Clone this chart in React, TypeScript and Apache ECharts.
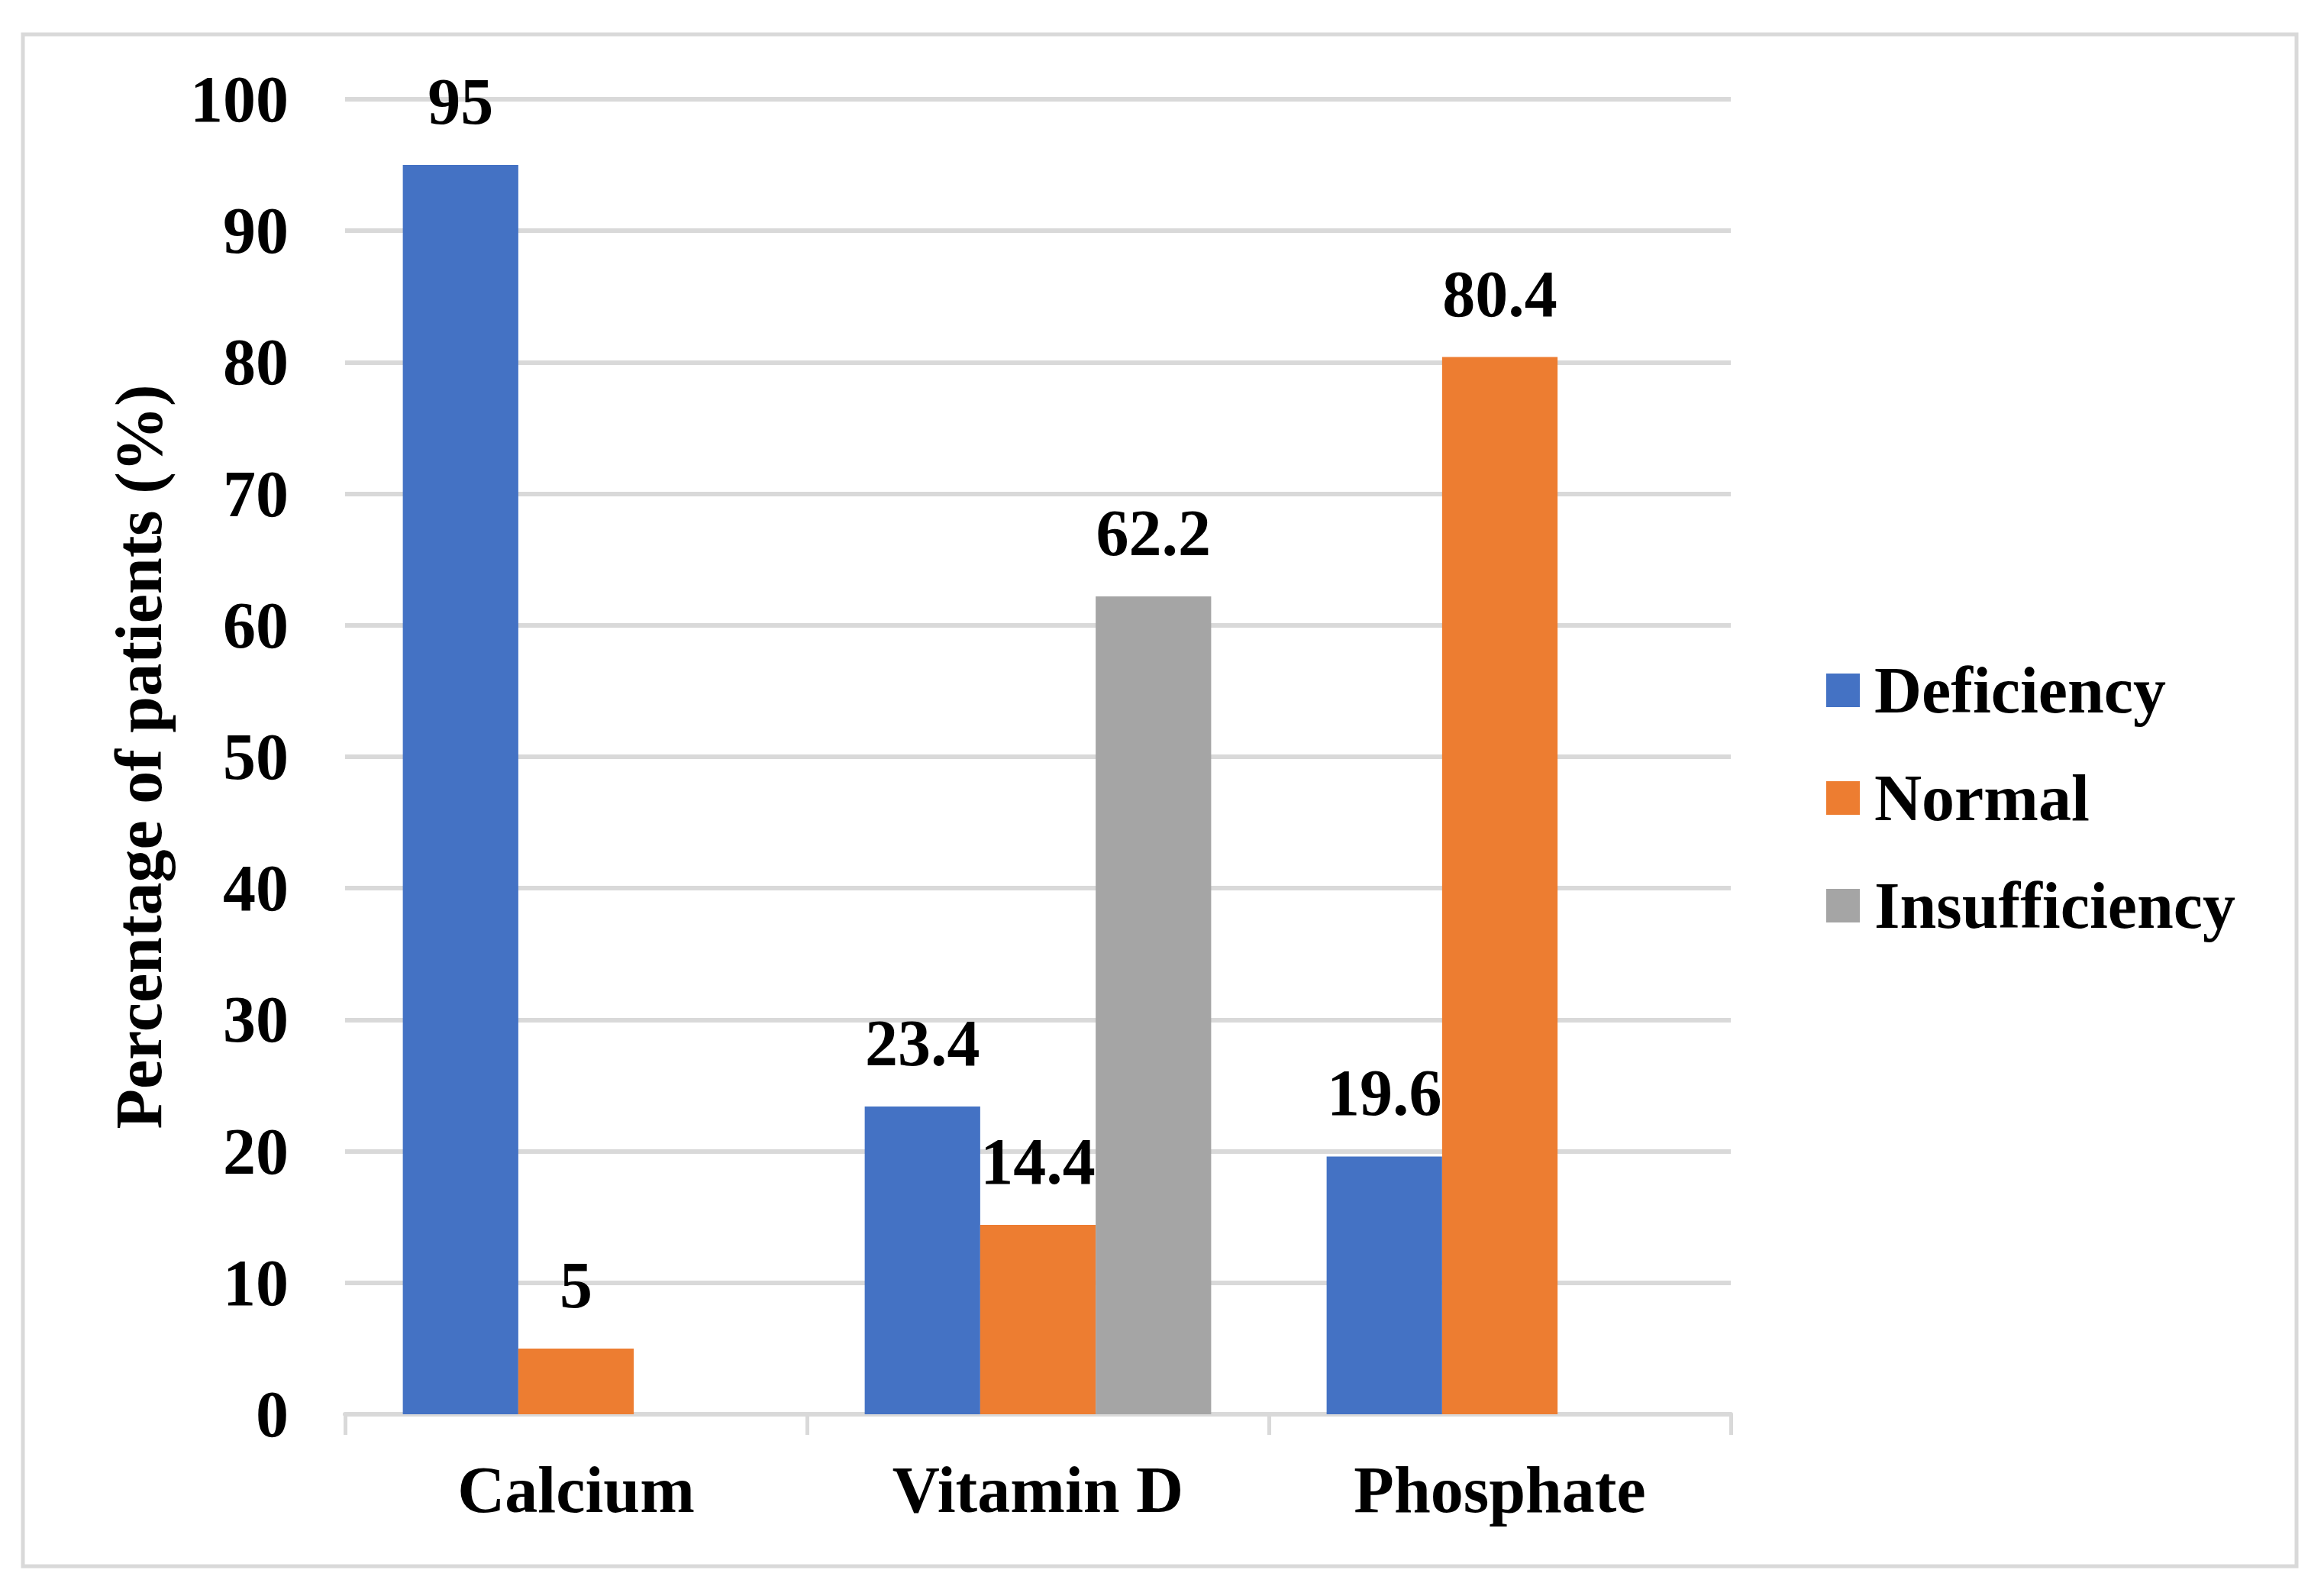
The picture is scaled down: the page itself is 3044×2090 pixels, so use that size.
import React, { useEffect, useRef } from "react";
import * as echarts from "echarts";

const categories = ["Calcium", "Vitamin D", "Phosphate"];
const seriesNames = ["Deficiency", "Normal", "Insufficiency"];
const deficiency = [95, 23.4, 19.6];
const normal = [5, 14.4, 80.4];
const insufficiency = [null, 62.2, null];
const colors = ["#4472C4", "#ED7D31", "#A5A5A5"];
const yTicks = { min: 0, max: 100, interval: 10 };

const FONT = "'Liberation Serif', 'Times New Roman', serif";
const FS = 86;

export default function App() {
  const ref = useRef<HTMLDivElement>(null);
  useEffect(() => {
    if (!ref.current) return;
    const chart = echarts.init(ref.current, null, { renderer: "svg" });
    const label = {
      show: true,
      position: "top",
      distance: 33,
      color: "#000",
      fontSize: FS,
      fontWeight: "bold",
      fontFamily: FONT,
      lineHeight: 100,
    };
    const data = [deficiency, normal, insufficiency];
    chart.setOption({
      animation: false,
      backgroundColor: "#fff",
      color: colors,
      graphic: [
        {
          type: "rect",
          shape: { x: 30, y: 45, width: 2978, height: 2006 },
          style: { fill: "none", stroke: "#d9d9d9", lineWidth: 5 },
          silent: true,
        },
      ],
      grid: { left: 452, right: 777, top: 130, bottom: 238 },
      legend: {
        orient: "vertical",
        left: 2387,
        top: 849,
        icon: "rect",
        itemWidth: 44,
        itemHeight: 44,
        itemGap: 41,
        data: seriesNames,
        textStyle: {
          color: "#000",
          fontSize: FS,
          fontWeight: "bold",
          fontFamily: FONT,
          lineHeight: 100,
          padding: [0, 0, 0, 14],
        },
      },
      xAxis: {
        type: "category",
        data: categories,
        axisLine: { show: true, lineStyle: { color: "#d9d9d9", width: 6 } },
        axisTick: { show: true, interval: 0, length: 27, lineStyle: { color: "#d9d9d9", width: 5 } },
        axisLabel: {
          color: "#000",
          fontSize: FS,
          fontWeight: "bold",
          fontFamily: FONT,
          lineHeight: 100,
          margin: 49,
        },
      },
      yAxis: {
        type: "value",
        min: yTicks.min,
        max: yTicks.max,
        interval: yTicks.interval,
        name: "Percentage of patients (%)",
        nameLocation: "middle",
        nameRotate: 90,
        nameGap: 227,
        nameTextStyle: {
          color: "#000",
          fontSize: FS,
          fontWeight: "bold",
          fontFamily: FONT,
        },
        axisLine: { show: false },
        axisTick: { show: false },
        axisLabel: {
          color: "#000",
          fontSize: FS,
          fontWeight: "bold",
          fontFamily: FONT,
          margin: 74,
        },
        splitLine: { show: true, lineStyle: { color: "#d9d9d9", width: 6 } },
      },
      series: seriesNames.map((name, i) => ({
        name,
        type: "bar",
        data: data[i],
        barGap: "0%",
        barCategoryGap: "25%",
        label,
        itemStyle: { color: colors[i] },
      })),
    });
    return () => chart.dispose();
  }, []);
  return (
    <div
      ref={ref}
      style={{ position: "fixed", left: 0, top: 0, width: 3044, height: 2090 }}
    />
  );
}
